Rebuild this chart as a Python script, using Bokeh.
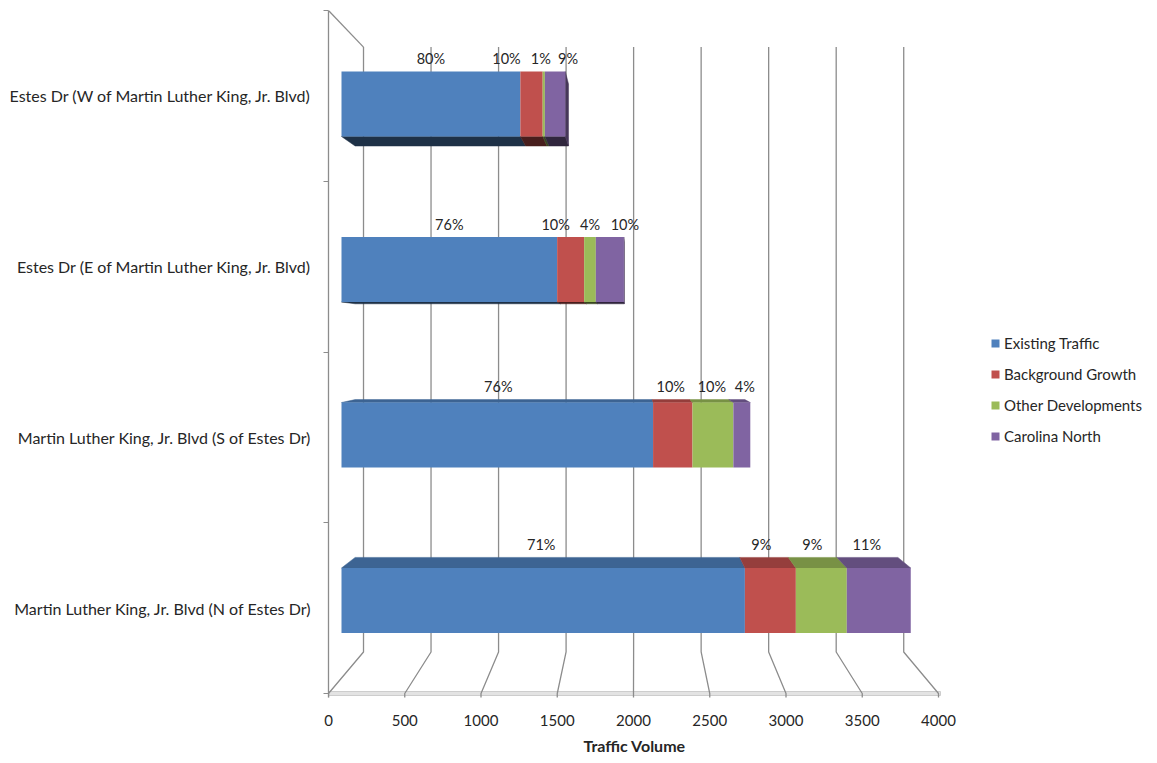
import numpy as np
from bokeh.plotting import figure
from bokeh.models import Range1d, LinearAxis, FixedTicker, ColumnDataSource, Legend, LegendItem, Title
from bokeh.embed import file_html
from bokeh.resources import INLINE

# ---------------- data ----------------
categories = [
    "Martin Luther King, Jr. Blvd (N of Estes Dr)",
    "Martin Luther King, Jr. Blvd (S of Estes Dr)",
    "Estes Dr (E of Martin Luther King, Jr. Blvd)",
    "Estes Dr (W of Martin Luther King, Jr. Blvd)",
]
series = ["Existing Traffic", "Background Growth", "Other Developments", "Carolina North"]
existing_traffic = [2763, 2134, 1477, 1225]
background_growth = [349, 270, 185, 153]
other_developments = [349, 280, 80, 15]
carolina_north = [438, 116, 192, 140]
x_ticks = [0, 500, 1000, 1500, 2000, 2500, 3000, 3500, 4000]
x_title = "Traffic Volume"

# ---------------- style / geometry ----------------
colors = ["#4F81BD", "#C0504D", "#9BBB59", "#8064A2"]
FONT = "Lato"
TXT = "#262626"
W, H = 1157, 763
FL, FR, FT, FB = 328, 1150, 10, 697          # plot frame in screen px
FX0, FS = 328, 0.1525                          # front (floor edge) plane
FY0, FYS = 693, 170.75                         # front plane category bands
X0B, SB = 341, 0.146                           # bar plane
Y0B, YSB = 600, 165.5
BAR_H_PX = 65
CXW, CYW, KW = 634, 330, 0.8856                # back wall perspective
CXB, CYB, RD = 634, 340, 0.9535                # bar depth perspective

def shade(hexcol, f):
    h = hexcol.lstrip("#")
    r, g, b = (int(h[k:k + 2], 16) for k in (0, 2, 4))
    return "#%02x%02x%02x" % (int(r * f), int(g * f), int(b * f))

p = figure(
    width=W, height=H,
    x_range=Range1d((FL - X0B) / SB, (FR - X0B) / SB),
    y_range=Range1d((Y0B - FB) / YSB, (Y0B - FT) / YSB),
    output_backend="svg", toolbar_location=None,
    x_axis_location=None, y_axis_location=None,
    min_border_left=FL, min_border_right=W - FR,
    min_border_top=FT, min_border_bottom=H - FB,
)
p.extra_x_ranges = {"front": Range1d((FL - FX0) / FS, (FR - FX0) / FS), "px": Range1d(FL, FR)}
p.extra_y_ranges = {"front": Range1d((FY0 - FB) / FYS, (FY0 - FT) / FYS), "py": Range1d(FB, FT)}
p.outline_line_color = None
p.background_fill_color = "white"
p.border_fill_color = "white"
p.xgrid.grid_line_color = None
p.ygrid.grid_line_color = None

# ---------------- walls, floor and gridlines ----------------
top_back = CYW + KW * (FT - CYW)
bot_back = CYW + KW * (FY0 - CYW)
gx, gy = [], []
for v in x_ticks:
    fx = FX0 + FS * v
    bx = CXW + KW * (fx - CXW)
    gx.append([bx, bx, fx, fx])
    gy.append([top_back, bot_back, FY0, FY0 + 6])
x_back0 = CXW + KW * (FX0 - CXW)
gx.append([FL, x_back0])
gy.append([FT, top_back])
p.quad(left=[FX0], right=[FX0 + FS * x_ticks[-1] + 2], top=[FY0 - 2], bottom=[FY0 + 2],
       fill_color="#e3e3e3", line_color="#c4c4c4", line_width=0.8,
       x_range_name="px", y_range_name="py")
p.multi_line(gx, gy, line_color="#8c8c8c", line_width=1.3, x_range_name="px", y_range_name="py")

# ---------------- bars ----------------
stack = np.array([existing_traffic, background_growth, other_developments, carolina_north], dtype=float)
cum = np.vstack([np.zeros(stack.shape[1]), np.cumsum(stack, axis=0)])
totals = cum[-1]
h = BAR_H_PX / YSB
vc = (CXB - X0B) / SB
yc = (Y0B - CYB) / YSB

def bk(x, y):
    return vc + RD * (x - vc), yc + RD * (y - yc)

fx_list, fy_list, fcol = [], [], []
for i in range(len(categories)):
    t, u = i + h / 2, i - h / 2
    for j in range(len(series)):
        a, b = cum[j, i], cum[j + 1, i]
        if t < yc:   # top face visible
            (a2, t2), (b2, _) = bk(a, t), bk(b, t)
            fx_list.append([a, b, b2, a2]); fy_list.append([t, t, t2, t2])
            fcol.append(shade(colors[j], 0.78))
        if u > yc:   # bottom face visible
            (a2, u2), (b2, _) = bk(a, u), bk(b, u)
            fx_list.append([a, b, b2, a2]); fy_list.append([u, u, u2, u2])
            fcol.append(shade(colors[j], 0.38))
    b = totals[i]
    if b < vc:      # right side face visible
        (b2, t2), (_, u2) = bk(b, t), bk(b, u)
        fx_list.append([b, b, b2, b2]); fy_list.append([t, u, u2, t2])
        fcol.append(shade(colors[-1], 0.55))
p.patches(fx_list, fy_list, fill_color=fcol, line_color=fcol, line_width=0.5)

src = ColumnDataSource(dict(
    y=list(range(len(categories))),
    existing=existing_traffic, background=background_growth,
    other=other_developments, carolina=carolina_north,
))
bar_renderers = p.hbar_stack(["existing", "background", "other", "carolina"], y="y", height=h,
                             color=colors, line_width=0, source=src)

# ---------------- percentage labels ----------------
nudge_px = [[-2, -9, -9, -12], [1, -2, -1, 3], [0, -15, 0, 15], [0, -25, -3, 13]]
lx, ly, lt = [], [], []
for i in range(len(categories)):
    t = i + h / 2
    t_back = yc + RD * (t - yc)
    top_vis = max(t, t_back)
    for j in range(len(series)):
        a, b = cum[j, i], cum[j + 1, i]
        lx.append((a + b) / 2 + nudge_px[i][j] / SB)
        ly.append(top_vis + 13 / YSB)
        lt.append("%d%%" % round(100 * stack[j, i] / totals[i]))
p.text(x=lx, y=ly, text=lt, text_align="center", text_baseline="middle",
       text_font={"value": FONT}, text_font_size="14.5px", text_color=TXT)

# ---------------- axes ----------------
xaxis = LinearAxis(x_range_name="front", ticker=FixedTicker(ticks=x_ticks),
                   axis_line_color=None, major_tick_line_color=None, minor_tick_line_color=None,
                   major_label_standoff=11, major_label_text_font=FONT,
                   major_label_text_font_size="15px", major_label_text_color=TXT)
p.add_layout(xaxis, "below")

# axis title centred under the 0..4000 span (front plane)
title_w = 100
title_center = FX0 + FS * (x_ticks[0] + x_ticks[-1]) / 2
p.add_layout(Title(text=x_title, align="left", offset=title_center - FL - title_w / 2,
                   text_font=FONT, text_font_size="16px", text_font_style="bold",
                   text_color=TXT, standoff=10), "below")

centers = [k + 0.5 for k in range(len(categories))]
yaxis = LinearAxis(y_range_name="front",
                   ticker=FixedTicker(ticks=centers, minor_ticks=list(range(len(categories) + 1))),
                   major_label_overrides={c: lab for c, lab in zip(centers, categories)},
                   axis_line_color="#8c8c8c", axis_line_width=1.3,
                   major_tick_line_color=None, major_tick_out=0, major_tick_in=0,
                   minor_tick_line_color="#8c8c8c", minor_tick_out=5, minor_tick_in=0,
                   major_label_standoff=12, major_label_text_font=FONT,
                   major_label_text_font_size="16px", major_label_text_color=TXT)
p.add_layout(yaxis, "left")

# ---------------- legend ----------------
legend = Legend(
    items=[LegendItem(label=s, renderers=[r]) for s, r in zip(series, bar_renderers)],
    location=(662, 251),
    border_line_color=None, background_fill_alpha=0,
    glyph_width=10, glyph_height=10, label_height=20, spacing=11,
    padding=10, margin=0, label_standoff=4,
    label_text_font=FONT, label_text_font_size="15px", label_text_color=TXT,
)
p.add_layout(legend)

open("out.html", "w").write(file_html(p, INLINE))
